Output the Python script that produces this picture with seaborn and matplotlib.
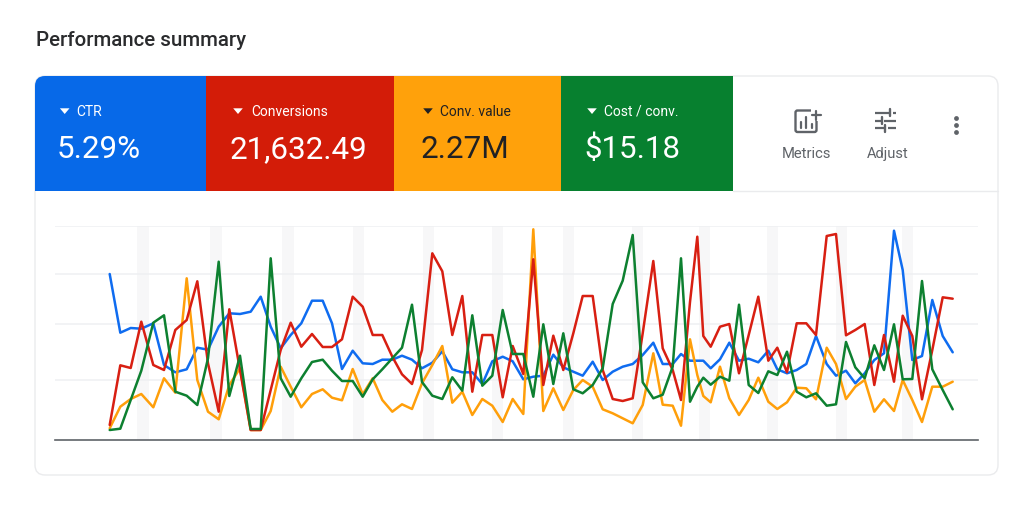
import numpy as np
import pandas as pd
import matplotlib
matplotlib.use("Agg")
import matplotlib.pyplot as plt
import seaborn as sns
from matplotlib.patches import FancyBboxPatch, Rectangle, Circle, Polygon

sns.set_style("white")
plt.rcParams['font.family'] = ['Roboto', 'DejaVu Sans']

days = [109.7, 120.3, 130.7, 141.3, 153.3, 164, 175.3, 186.7, 197.3, 208, 218.7, 229.3, 240, 250.7, 260.7, 270.7,
        280.7, 290.7, 301.3, 312, 322.7, 332, 342, 352.7, 362.7,
        372.7, 382.3, 392.3, 402, 412, 422, 432.3, 442.3, 452.3, 462.3, 472.3, 482.3, 492.3, 502.7, 512.7, 523.3,
        533.3, 543.3, 553.3, 563.3, 573.3, 582.7, 592.7, 602.7, 612.7, 622.7, 632.7, 642.7, 653.3, 662.7, 672.7,
        681, 690, 697.3, 703.3, 710.7, 720, 729.3, 739, 748.7, 758.3, 768.3, 777.3, 787, 796.7, 806.3, 816, 826.7,
        836, 846, 855.3, 864.7, 874.3, 884, 894, 902.7, 912.3, 922, 932.3, 942.7, 952.7]

ctr = [166, 107.3, 112, 111.3, 116.7, 75, 67.7, 70.7, 92.3, 90.3, 113.3, 126.7, 126, 128.3, 143.3, 113.3, 91.7, 105,
       116.7, 139.3, 139.3, 116.7, 71, 89.3, 76.7,
       76, 80.3, 80.3, 84.3, 80.3, 71.7, 77.3, 88.7, 70.7, 67.7, 67.7, 56, 78.7, 83.3, 78.7, 60.7, 63.3, 64.3, 85.3,
       72.7, 68.3, 64.3, 78.3, 60, 68.3, 73.3, 76, 85, 97.3, 76, 76,
       86, 79.3, 79.3, 79.3, 71.7, 80.7, 97.3, 79.3, 81.3, 77.7, 89.3, 70.7, 66.7, 70, 76, 104, 76, 64.3, 69.3, 56.7,
       66.7, 80, 86.7, 209.3, 170, 80, 84, 140, 104, 87.7]

conversions = [15, 74.7, 72, 118.3, 75, 70, 110, 120, 158.7, 76.7, 28.3, 130.7, 70, 10, 10, 50, 90, 117.3, 93.3, 106,
               93, 93, 100.7, 143.3, 133.3,
               105, 105, 83.3, 65.7, 56, 90, 186.7, 168.7, 105, 144, 48.3, 105, 105, 42.7, 94, 66, 180.7, 55, 104.3,
               70, 106.7, 144, 144, 70, 41, 39, 41.7, 106.7, 179, 91.7, 70,
               40, 138, 203.3, 104, 93.3, 113.3, 116, 66.7, 105, 143.3, 79.3, 92.3, 67.7, 116.7, 116.7, 105, 204, 206,
               104.7, 110, 116, 55, 105, 58.3, 124.3, 104, 40.7, 90, 142.7, 141.3]

conv_value = [11.7, 33.3, 41, 46, 32.7, 61.7, 47.3, 161.7, 60, 28.3, 20.7, 55, 71.7, 10, 10, 29, 73.3, 53.3, 32.7, 46,
              50.7, 42.3, 39.7, 71, 45.7,
              61.7, 40, 28.3, 35.7, 31, 56.7, 75, 94, 37.3, 48.3, 25, 41, 34.3, 18, 41, 26, 210.7, 29, 51.7, 30, 50,
              60, 53.3, 30.7, 26.7, 21.7, 16.7, 35, 86.7, 35.3, 34.3,
              14.3, 100.7, 65, 44, 37.7, 73.3, 41.7, 25, 40, 62.3, 38.3, 31, 37.7, 52.3, 51.7, 40.7, 92.3, 76, 41, 53.3,
              60, 28.3, 40.7, 29, 60, 40, 18, 53.3, 53.3, 58.3]

cost_conv = [10, 11.3, 40, 69.3, 117.3, 124.7, 48.3, 44.3, 35, 81.7, 178.3, 44, 84.3, 11, 11, 181.7, 61.7, 43.3, 61.7,
             78, 80.3, 69.3, 59, 59, 43.3,
             60.7, 70.7, 81.7, 92.3, 135.3, 58, 44.3, 41, 62.7, 49.3, 124.7, 54.3, 64.3, 130, 86, 86, 43.3, 115.7, 56,
             106.7, 50.7, 46.7, 55, 71.7, 136, 159.3, 205, 57.7, 41.7, 45.3, 73.3,
             181.7, 38.3, 53.3, 62.3, 55.3, 63.3, 59.3, 135.3, 55, 47, 68.7, 65, 88.3, 48.3, 42.7, 46.7, 34.3, 35.7, 98,
             72.7, 61.7, 94.7, 70, 115.7, 60.7, 61, 159, 70.7, 50, 30.7]

weekends = [(137, 148.7), (210, 222), (282.3, 294), (352.7, 364), (422.7, 434), (492, 503.3), (563.3, 574),
            (632, 643.3), (699, 710), (767, 777.7), (836, 846.7), (902.3, 913.3)]
grid_ticks = [59.7, 115.7, 165.7, 214]

tile_names = ["CTR", "Conversions", "Conv. value", "Cost / conv."]
tile_values = ["5.29%", "21,632.49", "2.27M", "$15.18"]
tile_colors = ["#0769e8", "#d31c08", "#ffa10b", "#07802f"]
tile_text = ["white", "white", "#202124", "white"]
tile_edges = [35, 206, 394, 561, 733]
arrow_x = [64.7, 238, 428, 592]
name_x = [76.7, 251, 440, 604]
value_x = [57, 229.5, 421, 584.5]

W, H = 1024, 505
fig = plt.figure(figsize=(W / 100, H / 100), dpi=100)

# page furniture in pixel coordinates
bg = fig.add_axes([0, 0, 1, 1])
bg.set_xlim(0, W)
bg.set_ylim(H, 0)
bg.axis("off")

bg.text(35.5, 40, "Performance summary", fontsize=14.8, fontweight="medium", color="#2a2b2d", va="center")

card = FancyBboxPatch((35, 76), 963, 399, boxstyle="round,pad=0,rounding_size=10",
                      fc="white", ec="#eaebed", lw=1)
bg.add_patch(card)
for i in range(4):
    left, right = tile_edges[i], tile_edges[i + 1]
    r = Rectangle((left, 76), right - left, 115, fc=tile_colors[i], ec="none")
    bg.add_patch(r)
    r.set_clip_path(card)
    ax_ = arrow_x[i]
    bg.add_patch(Polygon([(ax_ - 4.8, 108.3), (ax_ + 4.8, 108.3), (ax_, 114)], fc=tile_text[i], ec="none"))
    bg.text(name_x[i], 111.5, tile_names[i], fontsize=10, color=tile_text[i], va="center")
    bg.text(value_x[i], 149.5, tile_values[i], fontsize=22.6, color=tile_text[i], va="center")
bg.plot([733, 998], [191, 191], color="#eaebed", lw=1)

icon = "#5f6368"
# metrics icon
bg.add_patch(FancyBboxPatch((795.5, 110.5), 21, 21.5, boxstyle="round,pad=0,rounding_size=2", fc="none", ec=icon, lw=1.7))
bg.add_patch(Rectangle((811, 107), 10, 14, fc="white", ec="none"))
bg.plot([816, 816], [110.5, 120], color=icon, lw=1.6)
bg.plot([811.5, 820.5], [115.3, 115.3], color=icon, lw=1.6)
for bx, top in zip([800.7, 806, 811.5], [122, 117, 124]):
    bg.plot([bx, bx], [top, 128], color=icon, lw=1.6)
# adjust icon
for ly, notch in zip([112.8, 120.7, 128.3], [890, 881.5, 885]):
    bg.plot([875, notch - 1], [ly, ly], color=icon, lw=1.6, solid_capstyle="butt")
    bg.plot([notch + 2.5, 896], [ly, ly], color=icon, lw=1.6, solid_capstyle="butt")
    bg.plot([notch, notch], [ly - 3.5, ly + 3.5], color=icon, lw=1.7)
# more dots
for dy in [118.5, 125.5, 132.5]:
    bg.add_patch(Circle((956.5, dy), 2.4, fc=icon, ec="none"))
bg.text(806, 158, "Metrics", fontsize=10.6, color=icon, ha="center", va="baseline")
bg.text(888, 158, "Adjust", fontsize=10.6, color=icon, ha="center", va="baseline")

# the chart
ax = fig.add_axes([55 / W, (H - 440) / H, (978 - 55) / W, 214 / H], zorder=2)
ax.patch.set_alpha(0)
for a, b in weekends:
    ax.axvspan(a, b, color="#f7f7f8", lw=0, zorder=0)
ax.hlines(grid_ticks, 55, 978, color="#eff0f2", lw=1.1, zorder=1)

series = [(ctr, "#0f6cf0"), (conv_value, "#ff9f0a"), (conversions, "#d81f12"), (cost_conv, "#0d8030")]
for values, color in series:
    df = pd.DataFrame({"day": days, "value": values})
    sns.lineplot(data=df, x="day", y="value", color=color, lw=1.8, errorbar=None, ax=ax, legend=False, zorder=3)

ax.set_xlim(55, 978)
ax.set_ylim(0, 214)
ax.set_xlabel("")
ax.set_ylabel("")
ax.set_xticks([])
ax.set_yticks([])
for side in ["top", "left", "right"]:
    ax.spines[side].set_visible(False)
ax.spines["bottom"].set_color("#5f6368")
ax.spines["bottom"].set_linewidth(1.2)

fig.savefig("out.png", dpi=100)
